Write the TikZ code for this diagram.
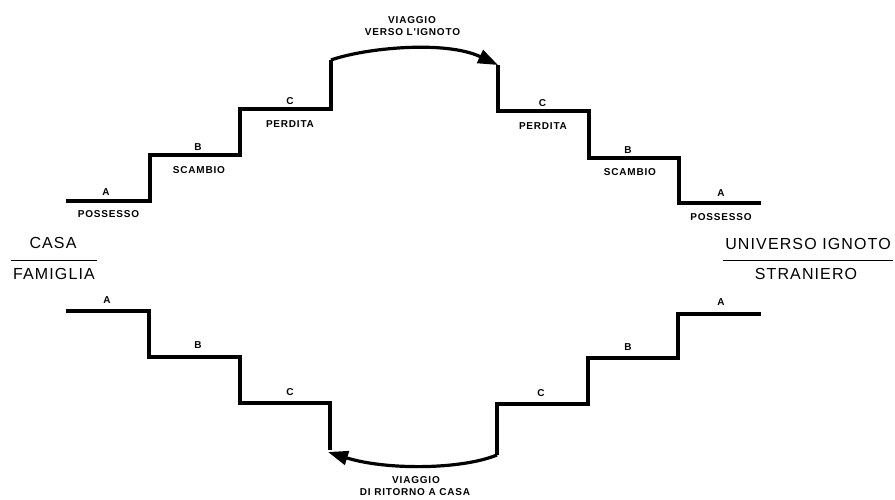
\documentclass[tikz,border=0pt]{standalone}
\usepackage{fontspec}
\setmainfont{Liberation Sans}
\newfontfamily\labfont[LetterSpace=8]{Liberation Sans}
\newfontfamily\bigfont[LetterSpace=7]{Liberation Sans}
\usetikzlibrary{arrows.meta}
\begin{document}
\begin{tikzpicture}[x=1pt,y=-1pt,
  stair/.style={line width=3.2pt,line join=miter},
  journey/.style={line width=3.2pt,-{Triangle[length=20pt,width=14pt]}},
  lab/.style={inner sep=0pt,font=\labfont\bfseries\fontsize{10}{12}\selectfont},
  big/.style={inner sep=0pt,font=\bigfont\fontsize{16}{18}\selectfont},
  rule/.style={line width=1pt}]
\useasboundingbox (0,0) rectangle (895,500);
% ---- upper left stairs
\coordinate (ul0) at (66,201);
\coordinate (ul1) at (150,201);
\coordinate (ul2) at (150,155);
\coordinate (ul3) at (240,155);
\coordinate (ul4) at (240,109);
\coordinate (ul5) at (331,109);
\coordinate (ul6) at (331,60);
\draw[stair] (ul0) -- (ul1) -- (ul2) -- (ul3) -- (ul4) -- (ul5) -- (ul6);
% ---- upper right stairs
\coordinate (ur0) at (498,65);
\coordinate (ur1) at (498,111);
\coordinate (ur2) at (589,111);
\coordinate (ur3) at (589,158);
\coordinate (ur4) at (679,158);
\coordinate (ur5) at (679,203);
\coordinate (ur6) at (761,203);
\draw[stair] (ur0) -- (ur1) -- (ur2) -- (ur3) -- (ur4) -- (ur5) -- (ur6);
% ---- lower left stairs
\coordinate (ll0) at (66,311);
\coordinate (ll1) at (149,311);
\coordinate (ll2) at (149,357);
\coordinate (ll3) at (240,357);
\coordinate (ll4) at (240,403);
\coordinate (ll5) at (330,403);
\coordinate (ll6) at (330,450);
\draw[stair] (ll0) -- (ll1) -- (ll2) -- (ll3) -- (ll4) -- (ll5) -- (ll6);
% ---- lower right stairs
\coordinate (lr0) at (497,455);
\coordinate (lr1) at (497,404);
\coordinate (lr2) at (588,404);
\coordinate (lr3) at (588,358);
\coordinate (lr4) at (678,358);
\coordinate (lr5) at (678,314);
\coordinate (lr6) at (761,314);
\draw[stair] (lr0) -- (lr1) -- (lr2) -- (lr3) -- (lr4) -- (lr5) -- (lr6);
% ---- journeys
\coordinate (llend) at (328,452);
\draw[journey] (ul6) .. controls (365,48) and (445,40) .. (ur0);
\draw[journey] (lr0) .. controls (460,470) and (385,470) .. (llend);
% ---- labels upper left
\node[lab] (a1) at (106,192.5) {A};
\node[lab] (p1) at (108.5,214.5) {POSSESSO};
\node[lab] (b1) at (198,147) {B};
\node[lab] (s1) at (199,170) {SCAMBIO};
\node[lab] (c1) at (290,101) {C};
\node[lab] (d1) at (290,124) {PERDITA};
% ---- labels upper right
\node[lab] (c2) at (542.5,103) {C};
\node[lab] (d2) at (543,126) {PERDITA};
\node[lab] (b2) at (628,150) {B};
\node[lab] (s2) at (630,172) {SCAMBIO};
\node[lab] (a2) at (721,193) {A};
\node[lab] (p2) at (721,217) {POSSESSO};
% ---- labels lower
\node[lab] (a3) at (107,300) {A};
\node[lab] (b3) at (198,345) {B};
\node[lab] (c3) at (290,392) {C};
\node[lab] (a4) at (721,302) {A};
\node[lab] (b4) at (628,347) {B};
\node[lab] (c4) at (541,393) {C};
% ---- journey labels
\node[lab] (v1) at (412,20.5) {VIAGGIO};
\node[lab] (v2) at (412.5,32.5) {VERSO L'IGNOTO};
\node[lab] (v3) at (416,480) {VIAGGIO};
\node[lab] (v4) at (415,492) {DI RITORNO A CASA};
% ---- side labels
\node[big] (casa) at (53,243) {CASA};
\node[big] (fam) at (54,274) {FAMIGLIA};
\coordinate (cl0) at (11,260);
\coordinate (cl1) at (97,260);
\draw[rule] (cl0) -- (cl1);
\node[big] (univ) at (808,244) {UNIVERSO IGNOTO};
\node[big] (stra) at (806,274) {STRANIERO};
\coordinate (rl0) at (723,260);
\coordinate (rl1) at (893,260);
\draw[rule] (rl0) -- (rl1);
\end{tikzpicture}
\end{document}
